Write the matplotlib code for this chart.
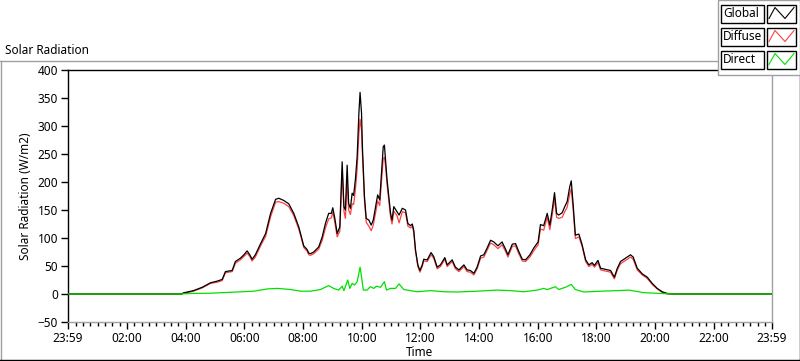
import numpy as np
import matplotlib
matplotlib.use("Agg")
import matplotlib.pyplot as plt
from matplotlib.lines import Line2D
from matplotlib.patches import Rectangle

plt.rcParams['font.family'] = ['Noto Sans', 'DejaVu Sans']

# ===== data (hours since midnight, W/m2) =====
hours = [-0.02, 3.85, 3.92, 4.26, 4.56, 4.84, 5.07, 5.24, 5.35, 5.58, 5.69, 5.86, 5.98,
         6.09, 6.18, 6.26, 6.37, 6.55, 6.72, 6.89, 7.06, 7.17, 7.34, 7.51, 7.68, 7.85,
         7.91, 8.02, 8.14, 8.19, 8.25, 8.36, 8.53, 8.65, 8.76, 8.87, 8.96, 9.01, 9.08,
         9.16, 9.25, 9.33, 9.39, 9.44, 9.50, 9.55, 9.61, 9.67, 9.72, 9.78, 9.84, 9.90,
         9.94, 9.99, 10.02, 10.09, 10.15, 10.24, 10.32, 10.39, 10.47, 10.54, 10.61,
         10.69, 10.73, 10.77, 10.81, 10.86, 10.92, 10.98, 11.03, 11.09, 11.20, 11.27,
         11.38, 11.49, 11.57, 11.66, 11.72, 11.77, 11.83, 11.91, 11.98, 12.06, 12.11,
         12.23, 12.36, 12.45, 12.57, 12.68, 12.83, 12.91, 13.08, 13.19, 13.31, 13.48,
         13.59, 13.70, 13.82, 13.93, 14.05, 14.16, 14.27, 14.39, 14.50, 14.64, 14.78,
         14.90, 14.98, 15.13, 15.24, 15.35, 15.47, 15.58, 15.73, 15.86, 16.01, 16.09,
         16.20, 16.32, 16.41, 16.49, 16.57, 16.64, 16.71, 16.83, 16.91, 17.00, 17.09,
         17.14, 17.21, 17.28, 17.40, 17.51, 17.63, 17.74, 17.85, 17.93, 18.05, 18.14,
         18.31, 18.48, 18.61, 18.71, 18.82, 18.99, 19.16, 19.25, 19.39, 19.56, 19.73,
         19.90, 20.07, 20.24, 20.41, 20.59, 23.98]

global_rad = [0, 0, 2, 6, 12, 20, 23, 26, 40, 42, 58, 64, 70,
              77, 70, 62, 70, 90, 108, 144, 169, 171, 167, 161, 144, 120,
              108, 86, 79, 73, 72, 75, 84, 102, 126, 144, 144, 154, 135,
              108, 120, 236, 156, 150, 230, 162, 153, 180, 176, 204, 245, 323,
              360, 323, 263, 174, 135, 132, 123, 132, 156, 177, 168,
              233, 263, 266, 239, 204, 174, 144, 132, 156, 147, 141,
              153, 150, 126, 122, 125, 114, 79, 52, 42, 52, 62,
              61, 74, 67, 48, 52, 65, 52, 61, 48, 43, 52,
              43, 42, 37, 48, 68, 70, 82, 96, 93, 86, 93,
              80, 70, 89, 90, 76, 62, 61, 70, 82, 93, 124,
              122, 144, 123, 150, 181, 144, 141, 145, 155, 165, 192,
              202, 156, 105, 107, 88, 61, 52, 56, 51, 60, 46,
              44, 42, 30, 46, 58, 64, 70, 66, 46, 36, 30,
              19, 10, 4, 1, 0, 0]

diffuse_rad = [0, 0, 1, 5, 11, 19, 21, 24, 38, 40, 55, 61, 67,
               73, 67, 59, 66, 86, 103, 138, 164, 165, 162, 156, 140, 116,
               105, 83, 76, 70, 69, 72, 80, 96, 118, 134, 136, 146, 128,
               102, 112, 222, 148, 135, 205, 150, 142, 161, 160, 185, 223, 286,
               312, 292, 250, 167, 128, 121, 113, 123, 145, 166, 158,
               215, 242, 244, 228, 196, 167, 137, 125, 148, 140, 127,
               147, 145, 121, 118, 121, 110, 76, 49, 39, 49, 59,
               58, 70, 64, 45, 49, 62, 49, 58, 45, 40, 49,
               40, 39, 34, 45, 64, 66, 78, 91, 88, 81, 88,
               76, 66, 85, 86, 72, 59, 58, 66, 77, 88, 116,
               114, 137, 115, 141, 170, 137, 135, 137, 146, 155, 179,
               188, 147, 99, 102, 85, 58, 49, 53, 48, 56, 43,
               41, 39, 27, 43, 54, 60, 66, 62, 43, 34, 28,
               17, 9, 3, 0, 0, 0]

direct_hours = [-0.02, 3.82, 4.16, 4.84, 6.31, 6.77, 7.12, 7.57, 7.91, 8.25, 8.59, 8.87,
                9.04, 9.21, 9.33, 9.39, 9.52, 9.59, 9.67, 9.75, 9.84, 9.90, 9.94, 9.99,
                10.05, 10.18, 10.29, 10.41, 10.50, 10.64, 10.77, 10.84, 10.98, 11.15,
                11.27, 11.43, 11.66, 11.89, 12.34, 12.80, 13.25, 13.93, 14.61, 15.07,
                15.52, 15.98, 16.20, 16.32, 16.60, 16.71, 16.94, 17.14, 17.28, 17.57,
                18.14, 18.71, 19.10, 19.33, 19.61, 20.18, 20.59, 23.98]
direct_rad = [0, 0, 1, 1.4, 5, 9, 10, 8, 5, 5, 8, 15,
              10, 7, 14, 6, 25, 10, 19, 16, 22, 37, 48, 31,
              7, 7, 13, 10, 14, 12, 22, 7, 10, 10,
              18, 8, 6, 4, 6, 4, 3.6, 5, 7, 6,
              4, 7, 10, 8, 13, 8, 12, 17, 8, 3.6,
              5, 6, 7, 5, 2.4, 1, 0, 0]

tick_hours = [-1 / 60, 2, 4, 6, 8, 10, 12, 14, 16, 18, 20, 22, 23 + 59 / 60]
tick_labels = ["23:59", "02:00", "04:00", "06:00", "08:00", "10:00", "12:00",
               "14:00", "16:00", "18:00", "20:00", "22:00", "23:59"]

series_names = ["Global", "Diffuse", "Direct"]
series_colors = ["#000000", "#ff4040", "#00e000"]

# ===== figure =====
fig = plt.figure(figsize=(8, 3.61), dpi=100)
W, H = 800, 361

def fx(px):
    return px / W

def fy(py):
    return 1 - py / H

# outer frame (raised look)
fig.add_artist(Line2D([fx(0.5), fx(0.5)], [fy(61), fy(360)], color="#a0a0a0", lw=1))
fig.add_artist(Line2D([fx(0), fx(718)], [fy(61), fy(61)], color="#a0a0a0", lw=1))
fig.add_artist(Line2D([fx(0), fx(800)], [fy(359.5), fy(359.5)], color="black", lw=1))
fig.add_artist(Line2D([fx(799.5), fx(799.5)], [fy(75), fy(360)], color="black", lw=1))

fig.text(fx(5), fy(50), "Solar Radiation", fontsize=8.5, va="center", ha="left")

ax = fig.add_axes([fx(68), fy(322), fx(772 - 68), (322 - 70) / H])
ax.plot(hours, diffuse_rad, color=series_colors[1], lw=0.9, zorder=2)
ax.plot(hours, global_rad, color=series_colors[0], lw=0.9, zorder=3)
ax.plot(direct_hours, direct_rad, color=series_colors[2], lw=0.9, zorder=4)

ax.set_xlim(-1 / 60, 23 + 59 / 60)
ax.set_ylim(-50, 400)
ax.set_yticks(np.arange(-50, 401, 50))
ax.set_xticks(tick_hours)
ax.set_xticklabels(tick_labels)
ax.set_xticks(np.arange(0.25, 24, 0.25), minor=True)
ax.tick_params(axis="both", direction="out", labelsize=8.5, length=5, width=1, pad=2)
ax.tick_params(axis="x", which="minor", length=3, width=1)
ax.set_xlabel("Time", fontsize=8.5, labelpad=1)
ax.set_ylabel("Solar Radiation (W/m2)", fontsize=8.5, labelpad=4)

ax.spines["top"].set_color("black")
ax.spines["left"].set_color("black")
ax.spines["right"].set_color("#a0a0a0")
ax.spines["bottom"].set_color("#a0a0a0")
for s in ax.spines.values():
    s.set_linewidth(1)

# legend panel drawn in figure coords, it overlaps the plot corner
fig.add_artist(Rectangle((fx(718), fy(75)), fx(82), (75) / H, facecolor="white",
                         edgecolor="#a0a0a0", lw=1, transform=fig.transFigure, zorder=10))
row_y = [13.5, 36.5, 59.5]
for name, col, ry in zip(series_names, series_colors, row_y):
    fig.add_artist(Rectangle((fx(721), fy(ry + 9)), fx(43), 18 / H, facecolor="white",
                             edgecolor="black", lw=1, transform=fig.transFigure, zorder=11))
    fig.text(fx(723), fy(ry), name, fontsize=8.5, va="center", ha="left", zorder=12)
    fig.add_artist(Rectangle((fx(767), fy(ry + 9)), fx(29), 18 / H, facecolor="white",
                             edgecolor="black", lw=1, transform=fig.transFigure, zorder=11))
    zx = [769, 775, 785, 794]
    zy = [ry + 5, ry - 6, ry + 5, ry - 6]
    fig.add_artist(Line2D([fx(v) for v in zx], [fy(v) for v in zy], color=col, lw=0.8,
                          zorder=12))

fig.savefig("out.png", dpi=100)
